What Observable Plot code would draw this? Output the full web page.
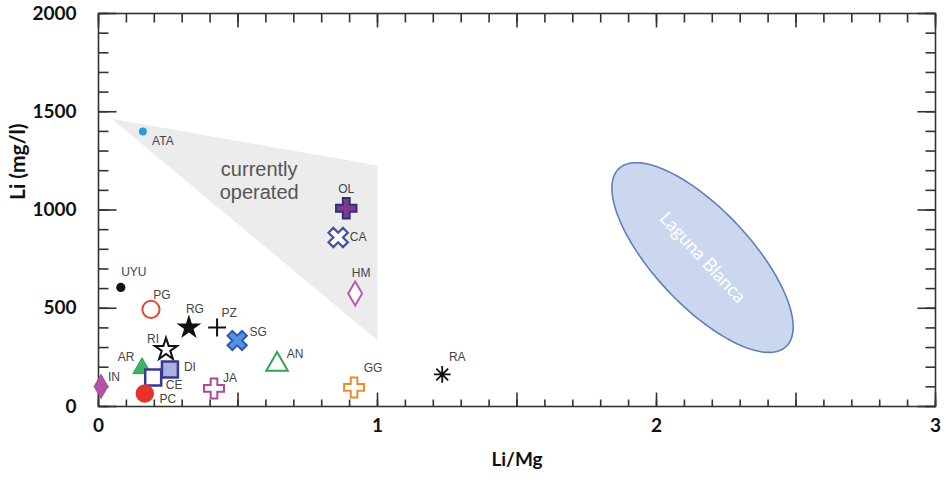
<!DOCTYPE html>
<html><head><meta charset="utf-8">
<script src="https://cdn.jsdelivr.net/npm/d3@7"></script>
<script src="https://cdn.jsdelivr.net/npm/@observablehq/plot@0.6"></script>
</head><body style="margin:0;background:#fff"><div id="chart"></div>
<script>
// ---- data ----
const sites = ["ATA","OL","CA","HM","UYU","PG","RG","PZ","SG","RI","AR","DI","CE","IN","PC","JA","AN","GG","RA"];
const liMgRatio = [0.159,0.888,0.859,0.920,0.080,0.188,0.324,0.425,0.497,0.242,0.156,0.256,0.196,0.009,0.166,0.414,0.640,0.916,1.232];
const liConc = [1399,1009,860,575,606,494,402,402,336,290,194,188,148,102,66,92,214,97,163];

// "currently operated" field (Li/Mg, Li)
const opFieldX = [0.047, 1.0, 1.0];
const opFieldY = [1464, 1226, 336];

// Laguna Blanca field: centre and half-axes (Li/Mg, Li)
const lagunaCenter = [2.165, 758];
const lagunaMajor = [0.2996, -453];
const lagunaMinor = [-0.1256, -167];

const xTickLabels = [0, 1, 2, 3];
const yTickLabels = [0, 500, 1000, 1500, 2000];

// ---- layout ----
const W = 952, H = 493, mL = 98, mR = 17, mT = 13, mB = 87;

// ---- styles ----
const s2 = Math.SQRT1_2;
const xCross = {draw(ctx, size) {
  const r = Math.sqrt(size / 5) / 2;
  const pts = [[-3*r,-r],[-r,-r],[-r,-3*r],[r,-3*r],[r,-r],[3*r,-r],[3*r,r],[r,r],[r,3*r],[-r,3*r],[-r,r],[-3*r,r]]
    .map(([x,y]) => [(x - y) * s2, (x + y) * s2]);
  ctx.moveTo(pts[0][0], pts[0][1]);
  for (const p of pts.slice(1)) ctx.lineTo(p[0], p[1]);
  ctx.closePath();
}};
const star8 = {draw(ctx, size) {
  const r = Math.sqrt(size / Math.PI) * 1.55;
  for (let k = 0; k < 4; k++) {
    const a = k * Math.PI / 4, c = Math.cos(a) * r, s = Math.sin(a) * r;
    ctx.moveTo(-c, -s); ctx.lineTo(c, s);
  }
}};
const markerStyle = {
  ATA:{symbol:"circle", r:4, fill:"#2a9de0", stroke:"none", sw:0},
  OL:{symbol:"cross", r:8.6, fill:"#7d3a8e", stroke:"#2f2f7a", sw:2},
  CA:{symbol:xCross, r:8.6, fill:"#fff", stroke:"#4650a6", sw:2.2},
  HM:{symbol:"diamond", r:7.3, fill:"#fff", stroke:"#b45db0", sw:2},
  UYU:{symbol:"circle", r:4.6, fill:"#111", stroke:"none", sw:0},
  PG:{symbol:"circle", r:8.6, fill:"#fff", stroke:"#e2493a", sw:2},
  RG:{symbol:"star", r:7.8, fill:"#111", stroke:"none", sw:0},
  PZ:{symbol:"plus", r:5.8, fill:"none", stroke:"#111", sw:2},
  SG:{symbol:xCross, r:8.6, fill:"#4f95e3", stroke:"#3354b0", sw:2},
  RI:{symbol:"star", r:7, fill:"#fff", stroke:"#111", sw:2},
  AR:{symbol:"triangle", r:6.8, fill:"#3fb264", stroke:"#2f9e52", sw:1},
  DI:{symbol:"square", r:9, fill:"#a8b3df", stroke:"#383a92", sw:2.5},
  CE:{symbol:"square", r:9, fill:"#fff", stroke:"#383a92", sw:2.5},
  IN:{symbol:"diamond", r:7.3, fill:"#b252a9", stroke:"#a64a9e", sw:1},
  PC:{symbol:"circle", r:9.2, fill:"#e8312b", stroke:"none", sw:0},
  JA:{symbol:"cross", r:8.4, fill:"#fff", stroke:"#b04a98", sw:2},
  AN:{symbol:"triangle", r:8, fill:"#fff", stroke:"#30a452", sw:2},
  GG:{symbol:"cross", r:8.4, fill:"#fff", stroke:"#f08a2e", sw:2},
  RA:{symbol:star8, r:5.4, fill:"none", stroke:"#111", sw:1.8}
};
const labelOffset = {
  ATA:[20,10], OL:[0,-19], CA:[20,0], HM:[6,-20], UYU:[13,-15], PG:[11,-14],
  RG:[6,-18], PZ:[12,-14], SG:[21,-8], RI:[-13,-10], AR:[-16,-11], DI:[20,-2],
  CE:[21,8], IN:[13,-9], PC:[23,6], JA:[16,-10], AN:[18,-10], GG:[19,-19], RA:[15,-17]
};

const points = sites.map((s, i) => ({site: s, x: liMgRatio[i], y: liConc[i]}));
const opField = opFieldX.map((x, i) => ({x, y: opFieldY[i]}));
const lagunaPts = d3.range(0, 120).map(k => {
  const t = k / 120 * 2 * Math.PI, c = Math.cos(t), s = Math.sin(t);
  return {x: lagunaCenter[0] + lagunaMajor[0]*c + lagunaMinor[0]*s,
          y: lagunaCenter[1] + lagunaMajor[1]*c + lagunaMinor[1]*s};
});

const xMinor = d3.range(0, 31).map(i => i / 10);
const xMajor = d3.range(0, 7).map(i => i / 2);
const yMinor = d3.range(0, 21).map(i => i * 100);
const yMajor = d3.range(0, 5).map(i => i * 500);
const tickStroke = "#333";
const tickSpec = [
  [xMinor, "bottom", 7], [xMajor, "bottom", 14], [xMinor, "top", 9], [xMajor, "top", 14],
  [yMinor, "left", 10], [yMajor, "left", 18], [yMinor, "right", 10], [yMajor, "right", 18]
];

// inward tick as a custom dot symbol: a segment pointing into the frame
function tickSymbol(side, len) {
  const [ux, uy] = {bottom: [0, -1], top: [0, 1], left: [1, 0], right: [-1, 0]}[side];
  return {draw(ctx) { ctx.moveTo(0, 0); ctx.lineTo(ux * len, uy * len); }};
}
function inwardTicks(values, side, len) {
  const horiz = side === "bottom" || side === "top";
  return Plot.dot(values, {
    ...(horiz ? {x: d => d} : {y: d => d}),
    frameAnchor: side, symbol: tickSymbol(side, len), r: 3,
    fill: "none", stroke: tickStroke, strokeWidth: 1.6
  });
}

const marks = [
  Plot.line(opField, {x:"x", y:"y", curve:"linear-closed", fill:"#ececec", stroke:"none"}),
  Plot.line(lagunaPts, {x:"x", y:"y", curve:"linear-closed", fill:"#cad7ef", stroke:"#5f80bb", strokeWidth:1.6}),
  Plot.text([{x: lagunaCenter[0], y: lagunaCenter[1], t: "Laguna Blanca"}], {x:"x", y:"y", text:"t", rotate:47, fill:"#fff", fontSize:18.5, fontFamily:"Lato, sans-serif"}),
  Plot.text([{x: 0.576, y: 1153, t: "currently\noperated"}], {x:"x", y:"y", text:"t", fill:"#555", fontSize:20, lineHeight:1.15, fontFamily:"'Liberation Sans', Arial, sans-serif"}),
  // tick labels
  Plot.axisX(xTickLabels, {anchor:"bottom", tickSize:0, tickPadding:12, tickFormat:d3.format("d"), label:null, fontSize:19, fontWeight:"bold", fill:"#111", fontFamily:"Lato, sans-serif"}),
  Plot.axisY(yTickLabels, {anchor:"left", tickSize:0, tickPadding:22, tickFormat:d3.format("d"), label:null, fontSize:19, fontWeight:"bold", fill:"#111", fontFamily:"Lato, sans-serif"}),
  // axis titles
  Plot.text(["Li/Mg"], {frameAnchor:"bottom", dy:59, text:d=>d, fontSize:19, fontWeight:"bold", fill:"#111", fontFamily:"Lato, sans-serif"}),
  Plot.text(["Li (mg/l)"], {frameAnchor:"left", dx:-80, dy:-10, rotate:-90, text:d=>d, fontSize:21, fontWeight:"bold", fill:"#111", fontFamily:"Lato, sans-serif"})
];
for (const [v, side, len] of tickSpec) marks.push(inwardTicks(v, side, len));
marks.push(Plot.frame({stroke: tickStroke, strokeWidth: 1.6}));

for (const p of points) {
  const st = markerStyle[p.site];
  marks.push(Plot.dot([p], {x:"x", y:"y", symbol: st.symbol, r: st.r, fill: st.fill, stroke: st.stroke, strokeWidth: st.sw}));
}
for (const p of points) {
  const [dx, dy] = labelOffset[p.site];
  marks.push(Plot.text([p], {x:"x", y:"y", text:"site", dx, dy, fill:"#444", fontSize:12, fontFamily:"'Liberation Sans', Arial, sans-serif"}));
}

const chart = Plot.plot({
  width: W,
  height: H,
  marginLeft: mL,
  marginRight: mR,
  marginTop: mT,
  marginBottom: mB,
  x: {domain: [0, 3]},
  y: {domain: [0, 2000]},
  style: {background: "#fff", fontFamily: "Lato, sans-serif"},
  marks
});
document.getElementById("chart").appendChild(chart);
</script>
</body></html>
